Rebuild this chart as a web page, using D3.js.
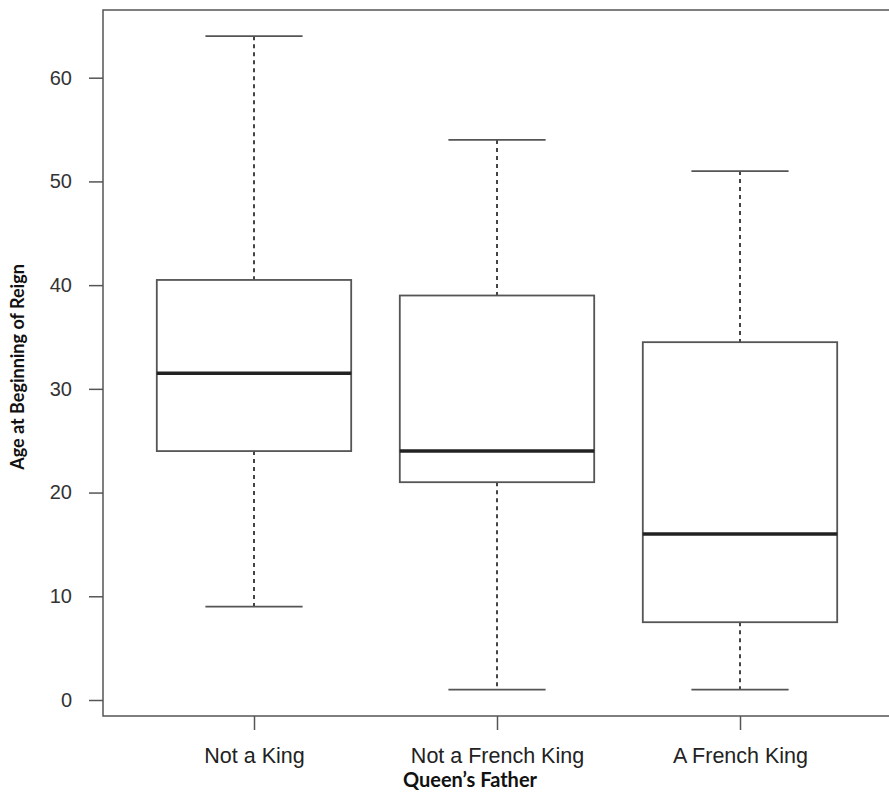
<!DOCTYPE html>
<html>
<head>
<meta charset="utf-8">
<script src="https://cdn.jsdelivr.net/npm/d3@7"></script>
<style>
  body { margin: 0; background: #fff; }
  svg { display: block; }
</style>
</head>
<body>
<div id="chart"></div>
<script>
// queen's father groups and box stats
var groups = ["Not a King", "Not a French King", "A French King"];
var whiskerLow = [9, 1, 1];
var q1 = [24, 21, 7.5];
var medians = [31.5, 24, 16];
var q3 = [40.5, 39, 34.5];
var whiskerHigh = [64, 54, 51];
var yTicks = [0, 10, 20, 30, 40, 50, 60];

var width = 889, height = 792;
var frame = { left: 103, top: 10, right: 889, bottom: 716 };

var svg = d3.select("#chart").append("svg")
  .attr("width", width)
  .attr("height", height);

var yScale = d3.scaleLinear().domain([0, 60]).range([700, 77.7]);
var xScale = d3.scalePoint().domain(groups).range([254, 740]);
var step = xScale.step();
var boxW = step * 0.8;
var capW = boxW / 2;

var lineCol = "#555";

// frame: left, top and bottom (right side runs off the picture)
svg.append("path")
  .attr("d", "M" + (frame.right + 5) + "," + frame.top + "H" + frame.left + "V" + frame.bottom + "H" + (frame.right + 5))
  .attr("fill", "none")
  .attr("stroke", lineCol)
  .attr("stroke-width", 1.5);

// y axis
var yAxis = svg.append("g")
  .attr("transform", "translate(" + frame.left + ",0)")
  .call(d3.axisLeft(yScale).tickValues(yTicks).tickSize(14).tickPadding(17));
yAxis.select(".domain").remove();
yAxis.selectAll("line").attr("stroke", lineCol).attr("stroke-width", 1.5);
yAxis.selectAll("text")
  .attr("fill", "#333")
  .style("font-family", "'Liberation Sans', Arial, Helvetica, sans-serif")
  .style("font-size", "20px");

// x axis
var xAxis = svg.append("g")
  .attr("transform", "translate(0," + frame.bottom + ")")
  .call(d3.axisBottom(xScale).tickSize(14).tickPadding(18));
xAxis.select(".domain").remove();
xAxis.selectAll("line").attr("stroke", lineCol).attr("stroke-width", 1.5);
xAxis.selectAll("text")
  .attr("fill", "#222")
  .style("font-family", "'Liberation Sans', Arial, Helvetica, sans-serif")
  .style("font-size", "21.5px");

var boxes = svg.append("g").selectAll("g")
  .data(groups)
  .enter().append("g")
  .attr("transform", function (d) { return "translate(" + xScale(d) + ",0)"; });

// dashed whiskers
boxes.append("line")
  .attr("y1", function (d, i) { return yScale(whiskerHigh[i]); })
  .attr("y2", function (d, i) { return yScale(q3[i]); })
  .attr("stroke", "#444").attr("stroke-width", 2).attr("stroke-dasharray", "4,4");
boxes.append("line")
  .attr("y1", function (d, i) { return yScale(q1[i]); })
  .attr("y2", function (d, i) { return yScale(whiskerLow[i]); })
  .attr("stroke", "#444").attr("stroke-width", 2).attr("stroke-dasharray", "4,4");

// caps
boxes.append("line")
  .attr("x1", -capW / 2).attr("x2", capW / 2)
  .attr("y1", function (d, i) { return yScale(whiskerHigh[i]); })
  .attr("y2", function (d, i) { return yScale(whiskerHigh[i]); })
  .attr("stroke", lineCol).attr("stroke-width", 1.8);
boxes.append("line")
  .attr("x1", -capW / 2).attr("x2", capW / 2)
  .attr("y1", function (d, i) { return yScale(whiskerLow[i]); })
  .attr("y2", function (d, i) { return yScale(whiskerLow[i]); })
  .attr("stroke", lineCol).attr("stroke-width", 1.8);

// boxes
boxes.append("rect")
  .attr("x", -boxW / 2)
  .attr("width", boxW)
  .attr("y", function (d, i) { return yScale(q3[i]); })
  .attr("height", function (d, i) { return yScale(q1[i]) - yScale(q3[i]); })
  .attr("fill", "none")
  .attr("stroke", lineCol)
  .attr("stroke-width", 1.8);

// medians
boxes.append("line")
  .attr("x1", -boxW / 2).attr("x2", boxW / 2)
  .attr("y1", function (d, i) { return yScale(medians[i]); })
  .attr("y2", function (d, i) { return yScale(medians[i]); })
  .attr("stroke", "#222").attr("stroke-width", 3.5);

// axis titles
svg.append("text")
  .attr("x", 470).attr("y", 787)
  .attr("text-anchor", "middle")
  .style("font-family", "Lato, 'Open Sans', sans-serif")
  .style("font-weight", "bold")
  .style("font-size", "20px")
  .attr("fill", "#111")
  .text("Queen\u2019s Father");

svg.append("text")
  .attr("transform", "translate(24,367) rotate(-90)")
  .attr("text-anchor", "middle")
  .style("font-family", "Lato, 'Open Sans', sans-serif")
  .style("font-weight", "bold")
  .style("font-size", "18px")
  .attr("fill", "#111")
  .text("Age at Beginning of Reign");
</script>
</body>
</html>
